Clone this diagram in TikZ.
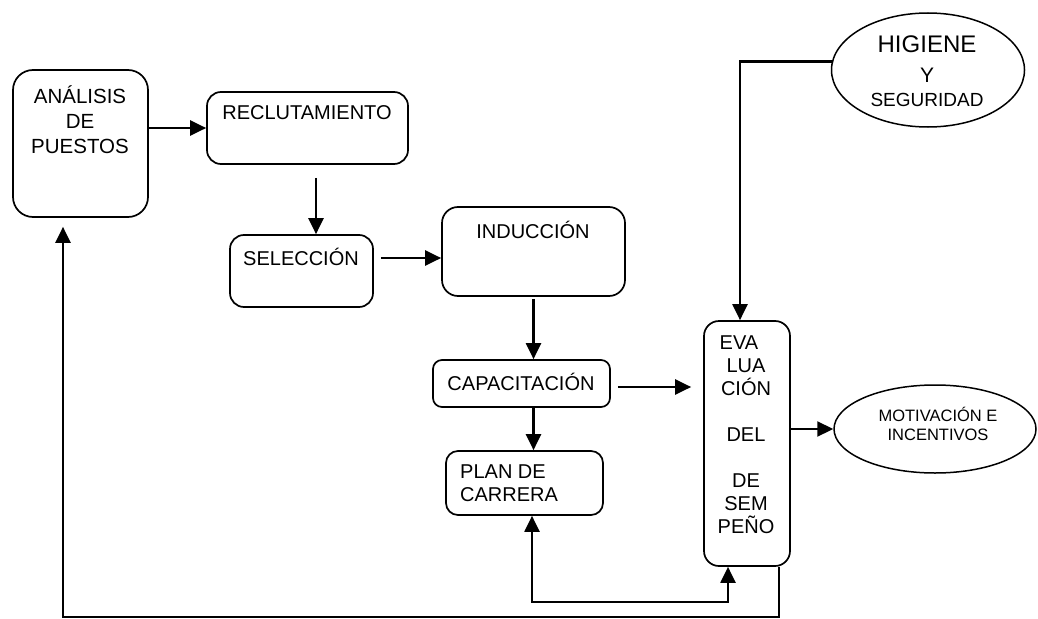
\documentclass[tikz,border=0pt]{standalone}
\usepackage{fontspec}
\setmainfont{Liberation Sans}
\usetikzlibrary{arrows.meta,shapes.geometric}
\begin{document}
\begin{tikzpicture}[x=1pt,y=-1pt,
  box/.style={draw, line width=1.7pt, inner sep=0pt},
  oval/.style={draw, ellipse, line width=1.5pt, inner sep=0pt},
  lbl/.style={inner sep=0pt, align=center, font=\fontsize{20}{23}\selectfont},
  arr/.style={line width=2.2pt, -{Triangle[length=16pt,width=15pt]}},
  biarr/.style={line width=2.2pt, {Triangle[length=16pt,width=15pt]}-{Triangle[length=16pt,width=15pt]}}
]
\useasboundingbox (0,0) rectangle (1038,618);

% process boxes
\node[box, rounded corners=20pt, minimum width=135pt, minimum height=147pt] (ana) at (80.5,143.5) {};
\node[box, rounded corners=14pt, minimum width=201pt, minimum height=72pt] (rec) at (307.5,128) {};
\node[box, rounded corners=14pt, minimum width=143pt, minimum height=72pt] (sel) at (301.5,271) {};
\node[box, rounded corners=16pt, minimum width=183pt, minimum height=89pt] (ind) at (533.5,251.5) {};
\node[box, rounded corners=9pt, minimum width=177pt, minimum height=47pt] (cap) at (521.5,383.5) {};
\node[box, rounded corners=12pt, minimum width=157pt, minimum height=64pt] (plan) at (524.5,483) {};
\node[box, rounded corners=15pt, minimum width=86pt, minimum height=245pt] (eval) at (747,443.5) {};

% box labels
\node[lbl, font=\fontsize{20.5}{25}\selectfont] (anat) at (80,120) {ANÁLISIS\\DE\\PUESTOS};
\node[lbl] (rect) at (307,113) {RECLUTAMIENTO};
\node[lbl] (selt) at (301,257) {SELECCIÓN};
\node[lbl] (indt) at (533,230) {INDUCCIÓN};
\node[lbl] (capt) at (521,382) {CAPACITACIÓN};
\node[lbl, anchor=west, align=left] (plant) at (460,483.5) {PLAN DE\\CARRERA};
\node[lbl] (evalt) at (746,435) {\hspace*{-14pt}EVA\\LUA\\CIÓN\\[23pt]DEL\\[23pt]DE\\SEM\\PEÑO};

% ovals and their labels
\node[oval, minimum width=193pt, minimum height=114pt] (hig) at (928,70) {};
\node[lbl, font=\fontsize{24}{28}\selectfont] (higa) at (927,44) {HIGIENE};
\node[lbl, font=\fontsize{21}{24}\selectfont] (higb) at (927,75) {Y};
\node[lbl, font=\fontsize{19}{21}\selectfont] (higc) at (927,100) {SEGURIDAD};
\node[oval, minimum width=202pt, minimum height=88pt] (mot) at (935,429) {};
\node[lbl, font=\fontsize{16.5}{18.5}\selectfont] (mott) at (938,424) {MOTIVACIÓN E\\INCENTIVOS};

% arrow end points off the node borders
\coordinate (recout) at ([xshift=8.5pt,yshift=-13pt]rec.south);
\coordinate (selin)  at ([xshift=14.5pt]sel.north);
\coordinate (selout) at ([xshift=7pt,yshift=13pt]sel.east);
\coordinate (indout) at ([yshift=-2pt]ind.south);
\coordinate (capout) at ([xshift=7pt,yshift=-3.5pt]cap.east);
\coordinate (evalin) at ([xshift=-12pt]eval.west);
\coordinate (higin)  at ([xshift=-7pt]eval.north);

% flow connectors
\draw[arr] (ana.east |- rec.west) -- (rec.west);
\draw[arr] (recout) -- (selin);
\draw[arr] (selout) -- (ind.west |- selout);
\draw[arr] (indout) -- (indout |- cap.north);
\draw[arr] (capout) -- (evalin |- capout);
\draw[arr] (cap.south -| ind.south) -- (plan.north -| ind.south);
\draw[arr] (eval.east |- mot.west) -- (mot.west);
\draw[arr] (hig.175) -| (higin);

% return loops
\coordinate (lp) at (532,602);
\coordinate (rp) at (728,602);
\draw[biarr] (plan.south -| lp) -- (lp) -- (rp) -- (eval.south -| rp);

\coordinate (br) at (779,617);
\coordinate (bl) at (63,617);
\coordinate (anain) at ([yshift=-9pt]ana.south);
\draw[arr] (eval.south -| br) -- (br) -- (bl) -- (anain -| bl);
\end{tikzpicture}
\end{document}
